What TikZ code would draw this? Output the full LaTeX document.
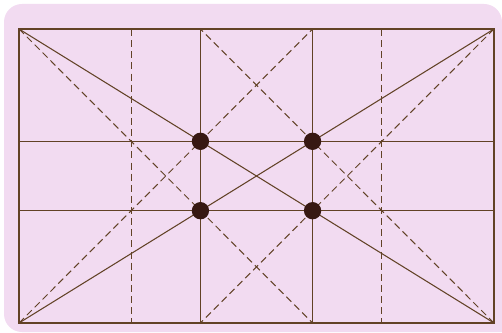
\documentclass[tikz,border=0pt]{standalone}
\usepackage{tikz}
\usetikzlibrary{calc}
\definecolor{cPaper}{RGB}{242,219,241}
\definecolor{cInk}{RGB}{98,66,38}
\definecolor{cDot}{RGB}{55,24,18}
\tikzset{
  frame/.style={draw=cInk, line width=1.1pt},
  solidln/.style={draw=cInk, line width=0.9pt},
  guide/.style={draw=cInk, line width=0.85pt, dash pattern=on 6pt off 3.5pt},
  spot/.style={circle, fill=cDot, inner sep=0pt, minimum size=5.2mm}
}

\begin{document}
\begin{tikzpicture}[x=0.3mm, y=0.3mm]
  \useasboundingbox (0,0) rectangle (502,332);
  \fill[cPaper] (4,18) arc[start angle=180, end angle=270, radius=18] -- (502,0) -- (502,310)
    arc[start angle=0, end angle=90, radius=18] -- (22,328) arc[start angle=90, end angle=180, radius=18] -- cycle;
  % golden rectangle and its cuts
  \coordinate (bl) at (19,9);
  \coordinate (br) at (494,9);
  \coordinate (tl) at (19,303);
  \coordinate (tr) at (494,303);
  \foreach \n/\f in {1/0.236068,2/0.381966,3/0.618034,4/0.763932} {
    \coordinate (t\n) at ($(tl)!\f!(tr)$);
    \coordinate (b\n) at ($(bl)!\f!(br)$);
  }
  \coordinate (l1) at ($(tl)!0.381966!(bl)$);
  \coordinate (r1) at ($(tr)!0.381966!(br)$);
  \coordinate (l2) at ($(tl)!0.618034!(bl)$);
  \coordinate (r2) at ($(tr)!0.618034!(br)$);
  % dashed guides
  \draw[guide] (t1) -- (b1);
  \draw[guide] (t4) -- (b4);
  \draw[guide] (tl) -- (b3);
  \draw[guide] (tr) -- (b2);
  \draw[guide] (bl) -- (t3);
  \draw[guide] (br) -- (t2);
  % solid lines
  \draw[solidln] (t2) -- (b2);
  \draw[solidln] (t3) -- (b3);
  \draw[solidln] (l1) -- (r1);
  \draw[solidln] (l2) -- (r2);
  \draw[solidln] (tl) -- (br);
  \draw[solidln] (bl) -- (tr);
  \draw[frame] (bl) rectangle (tr);
  % the four strong points
  \node[spot] (p1) at (t2 |- l1) {};
  \node[spot] (p2) at (t3 |- l1) {};
  \node[spot] (p3) at (t2 |- l2) {};
  \node[spot] (p4) at (t3 |- l2) {};
\end{tikzpicture}
\end{document}
